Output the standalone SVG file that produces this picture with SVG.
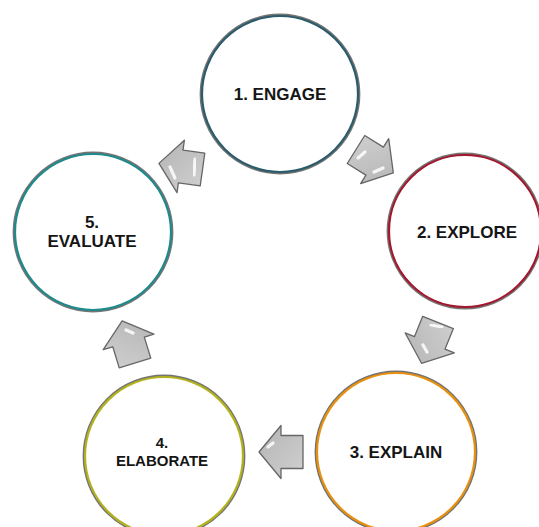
<svg xmlns="http://www.w3.org/2000/svg" width="539" height="527" viewBox="0 0 539 527">
  <style>
    .ring-shadow { fill: none; stroke: #2a2a2a; stroke-width: 3.8; opacity: 0.65; }
    .ring { fill: #ffffff; stroke-width: 2.2; }
    .label { font-family: "Liberation Sans", Arial, sans-serif; font-weight: bold; fill: #151515; text-anchor: middle; }
    .big { font-size: 17px; }
    .small { font-size: 15px; }
    .arrow { fill: url(#arrowFill); stroke: #666666; stroke-width: 1.3; stroke-linejoin: round; }
    .shine { fill: none; stroke: #ffffff; stroke-width: 3.2; stroke-linecap: round; opacity: 0.85; filter: url(#soft); }
  </style>
  <defs>
    <linearGradient id="arrowFill" x1="0" y1="0" x2="1" y2="1">
      <stop offset="0" stop-color="#d0d0d0"/>
      <stop offset="1" stop-color="#b4b4b4"/>
    </linearGradient>
    <filter id="soft" x="-50%" y="-50%" width="200%" height="200%">
      <feGaussianBlur stdDeviation="0.5"/>
    </filter>
    <!-- block arrow pointing along +x, tail at the origin -->
    <path id="blockArrow" d="M0,-16.5 L22,-16.5 L22,-26.5 L44,0 L22,26.5 L22,16.5 L0,16.5 Z"/>
  </defs>

  <rect width="539" height="527" fill="#ffffff"/>

  <g id="connectors">
    <g id="arrow-engage-explore">
      <use href="#blockArrow" class="arrow" transform="translate(356,149.5) rotate(32)"/>
      <path class="shine" d="M358,158 L365,152"/>
      <path class="shine" d="M374,172 L383,168"/>
    </g>
    <g id="arrow-explore-explain">
      <use href="#blockArrow" class="arrow" transform="translate(438,322.5) rotate(112)"/>
      <path class="shine" d="M431,325 L442,327"/>
      <path class="shine" d="M423,345 L427,352"/>
    </g>
    <g id="arrow-explain-elaborate">
      <use href="#blockArrow" class="arrow" transform="translate(303,452) rotate(180)"/>
      <path class="shine" d="M295,444 L295,460"/>
      <path class="shine" d="M268,447 L273,443"/>
    </g>
    <g id="arrow-elaborate-evaluate">
      <use href="#blockArrow" class="arrow" transform="translate(135,363) rotate(-107)"/>
      <path class="shine" d="M126,330 L133,333"/>
      <path class="shine" d="M126,357 L137,357"/>
    </g>
    <g id="arrow-evaluate-engage">
      <use href="#blockArrow" class="arrow" transform="translate(202.5,169.5) rotate(188)"/>
      <path class="shine" d="M195,159 L194,175"/>
      <path class="shine" d="M170,167 L175,178"/>
    </g>
  </g>

  <g id="engage">
    <circle class="ring-shadow" cx="280" cy="94" r="78.5"/>
    <circle class="ring" cx="280" cy="94" r="78" stroke="#2c5c6c"/>
    <text class="label big" x="280" y="100">1. ENGAGE</text>
  </g>

  <g id="explore">
    <circle class="ring-shadow" cx="465" cy="231" r="76.5"/>
    <circle class="ring" cx="465" cy="231" r="76" stroke="#a3182e"/>
    <text class="label big" x="467" y="238">2. EXPLORE</text>
  </g>

  <g id="explain">
    <circle class="ring-shadow" cx="396" cy="452" r="79.5"/>
    <circle class="ring" cx="396" cy="452" r="79" stroke="#e8900f"/>
    <text class="label big" x="396" y="458">3. EXPLAIN</text>
  </g>

  <g id="elaborate">
    <circle class="ring-shadow" cx="164" cy="456" r="79.5"/>
    <circle class="ring" cx="164" cy="456" r="79" stroke="#b2b21e"/>
    <text class="label small" x="162" y="448">4.</text>
    <text class="label small" x="162" y="466">ELABORATE</text>
  </g>

  <g id="evaluate">
    <circle class="ring-shadow" cx="93" cy="232" r="78.5"/>
    <circle class="ring" cx="93" cy="232" r="78" stroke="#1f8a8c"/>
    <text class="label big" x="92" y="228">5.</text>
    <text class="label big" x="92" y="247">EVALUATE</text>
  </g>
</svg>
